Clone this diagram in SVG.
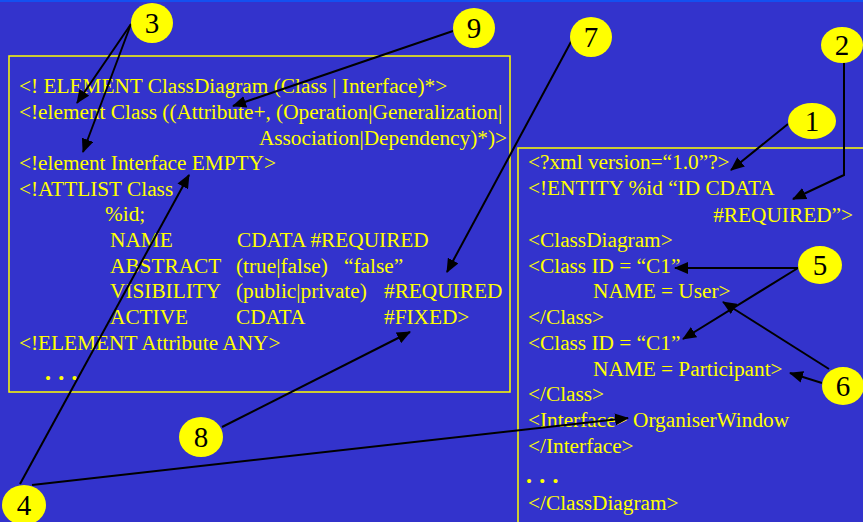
<svg xmlns="http://www.w3.org/2000/svg" width="863" height="522" viewBox="0 0 863 522">
  <style>
    .code { font-family: "Liberation Serif", "Times New Roman", serif; font-size: 21.3px; fill: #ffff00; }
    .dots { font-family: "Liberation Serif", "Times New Roman", serif; font-size: 17px; fill: #ffff00; word-spacing: 3px; }
    .box { fill: none; stroke: #ffff00; stroke-width: 1.5; }
    .badge ellipse { fill: #ffff00; }
    .badge text { font-family: "Liberation Serif", "Times New Roman", serif; font-size: 29px; fill: #000; text-anchor: middle; }
    .conn { fill: none; stroke: #000; stroke-width: 2; }
  </style>
  <defs>
    <marker id="arrow" markerUnits="userSpaceOnUse" markerWidth="14" markerHeight="12" refX="13" refY="6" orient="auto">
      <path d="M0,0 L14,6 L0,12 Z" fill="#000"/>
    </marker>
  </defs>

  <!-- background -->
  <rect x="0" y="0" width="863" height="522" fill="#3333cc"/>
  <rect x="0" y="0" width="863" height="2" fill="#1450f0"/>

  <!-- DTD panel -->
  <g id="dtd">
    <rect class="box" x="9" y="56" width="501" height="336"/>
    <text class="code" x="19" y="93">&lt;! ELEMENT ClassDiagram (Class | Interface)*&gt;</text>
    <text class="code" x="19" y="119">&lt;!element Class ((Attribute+, (Operation|Generalization|</text>
    <text class="code" x="507" y="145" text-anchor="end">Association|Dependency)*)&gt;</text>
    <text class="code" x="19" y="170">&lt;!element Interface EMPTY&gt;</text>
    <text class="code" x="19" y="196">&lt;!ATTLIST Class</text>
    <text class="code" x="105" y="221">%id;</text>
    <text class="code" x="110" y="247">NAME</text>
    <text class="code" x="237" y="247">CDATA #REQUIRED</text>
    <text class="code" x="110" y="273">ABSTRACT</text>
    <text class="code" x="236" y="273">(true|false)</text>
    <text class="code" x="344" y="273">“false”</text>
    <text class="code" x="110" y="298">VISIBILITY</text>
    <text class="code" x="236" y="298">(public|private)</text>
    <text class="code" x="384" y="298">#REQUIRED</text>
    <text class="code" x="110" y="324">ACTIVE</text>
    <text class="code" x="236" y="324">CDATA</text>
    <text class="code" x="384" y="324">#FIXED&gt;</text>
    <text class="code" x="19" y="350">&lt;!ELEMENT Attribute ANY&gt;</text>
    <text class="dots" x="45" y="384">• • •</text>
  </g>

  <!-- XML instance panel -->
  <g id="xml">
    <rect class="box" x="518" y="148" width="360" height="390"/>
    <text class="code" x="528" y="169">&lt;?xml version=“1.0”?&gt;</text>
    <text class="code" x="528" y="195">&lt;!ENTITY %id “ID CDATA</text>
    <text class="code" x="853" y="222" text-anchor="end">#REQUIRED”&gt;</text>
    <text class="code" x="528" y="247">&lt;ClassDiagram&gt;</text>
    <text class="code" x="528" y="273">&lt;Class ID = “C1”</text>
    <text class="code" x="593" y="298">NAME = User&gt;</text>
    <text class="code" x="528" y="324">&lt;/Class&gt;</text>
    <text class="code" x="528" y="350">&lt;Class ID = “C1”</text>
    <text class="code" x="593" y="376">NAME = Participant&gt;</text>
    <text class="code" x="528" y="401">&lt;/Class&gt;</text>
    <text class="code" x="528" y="427">&lt;Interface&gt; OrganiserWindow</text>
    <text class="code" x="528" y="453">&lt;/Interface&gt;</text>
    <text class="dots" x="526" y="487">• • •</text>
    <text class="code" x="528" y="510">&lt;/ClassDiagram&gt;</text>
  </g>

  <!-- callout connectors -->
  <g id="connectors">
    <line class="conn" x1="131" y1="24" x2="77" y2="103" marker-end="url(#arrow)"/>
    <line class="conn" x1="131" y1="24" x2="83" y2="152" marker-end="url(#arrow)"/>
    <line class="conn" x1="453" y1="31" x2="233" y2="106" marker-end="url(#arrow)"/>
    <line class="conn" x1="572" y1="40" x2="447" y2="272" marker-end="url(#arrow)"/>
    <polyline class="conn" points="844,63 844,175 793,199" marker-end="url(#arrow)"/>
    <line class="conn" x1="788" y1="124" x2="731" y2="170" marker-end="url(#arrow)"/>
    <line class="conn" x1="798" y1="268" x2="675" y2="268" marker-end="url(#arrow)"/>
    <line class="conn" x1="798" y1="268" x2="683" y2="339" marker-end="url(#arrow)"/>
    <line class="conn" x1="829" y1="369" x2="723" y2="302" marker-end="url(#arrow)"/>
    <line class="conn" x1="822" y1="383" x2="790" y2="373" marker-end="url(#arrow)"/>
    <line class="conn" x1="222" y1="427" x2="410" y2="332" marker-end="url(#arrow)"/>
    <line class="conn" x1="20" y1="484" x2="189" y2="175" marker-end="url(#arrow)"/>
    <line class="conn" x1="32" y1="485" x2="628" y2="418" marker-end="url(#arrow)"/>
  </g>

  <!-- numbered callouts -->
  <g id="c1" class="badge"><ellipse cx="812" cy="121" rx="24" ry="18"/><text x="812" y="131">1</text></g>
  <g id="c2" class="badge"><ellipse cx="842" cy="45" rx="21" ry="18"/><text x="842" y="55">2</text></g>
  <g id="c3" class="badge"><ellipse cx="152" cy="23" rx="21" ry="20"/><text x="152" y="33">3</text></g>
  <g id="c4" class="badge"><ellipse cx="24" cy="505" rx="22" ry="20"/><text x="24" y="515">4</text></g>
  <g id="c5" class="badge"><ellipse cx="820" cy="265" rx="22" ry="19"/><text x="820" y="275">5</text></g>
  <g id="c6" class="badge"><ellipse cx="843" cy="386" rx="21" ry="19"/><text x="843" y="396">6</text></g>
  <g id="c7" class="badge"><ellipse cx="591" cy="37" rx="21" ry="20"/><text x="591" y="47">7</text></g>
  <g id="c8" class="badge"><ellipse cx="201" cy="437" rx="22" ry="20"/><text x="201" y="447">8</text></g>
  <g id="c9" class="badge"><ellipse cx="474" cy="28" rx="21" ry="20"/><text x="474" y="38">9</text></g>
</svg>
